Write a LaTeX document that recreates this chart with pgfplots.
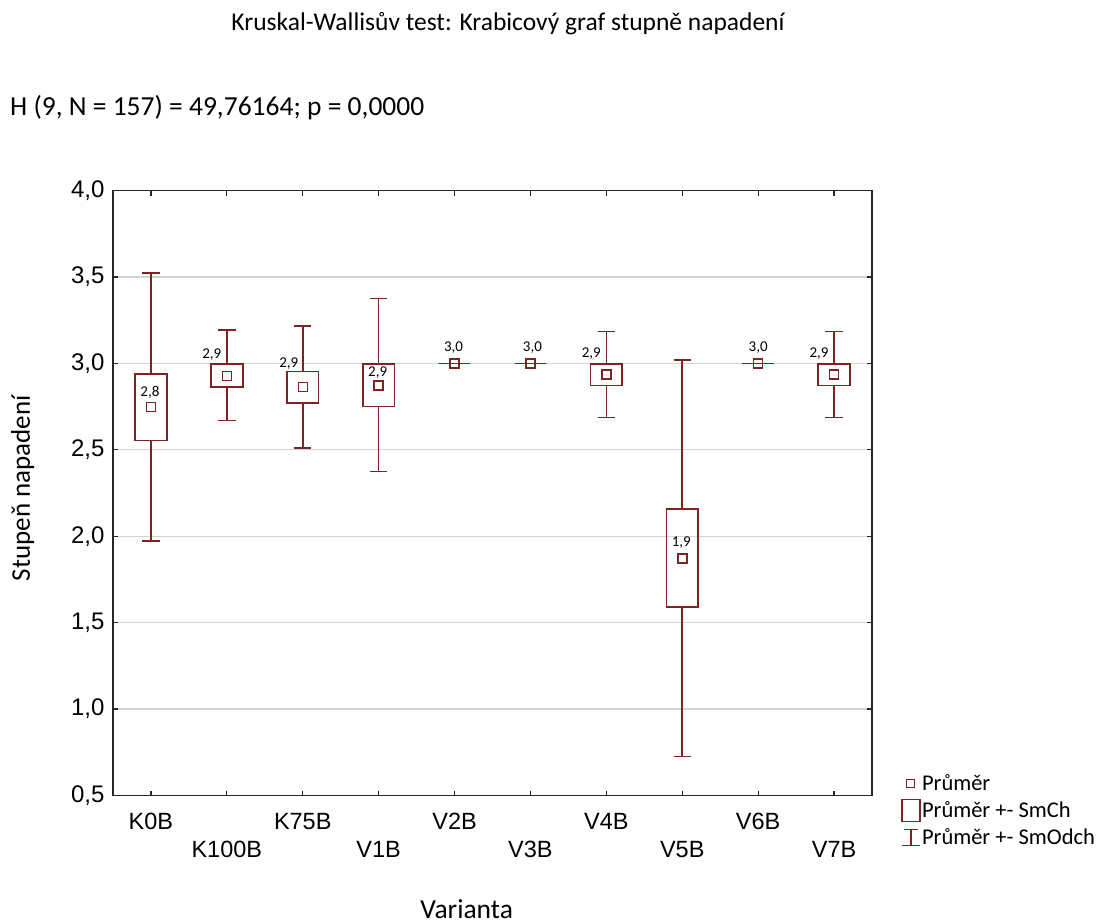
\documentclass[border=0pt]{standalone}
\usepackage{pgfplots}
\pgfplotsset{compat=1.18}
\usepgfplotslibrary{statistics}
\usepackage{pgfplotstable}
\usepackage{fontspec}
\setmainfont{Carlito}
\newfontfamily\arial{Liberation Sans}
\definecolor{mr}{RGB}{128,34,34}
\definecolor{gridc}{RGB}{212,212,212}

\pgfplotstableread{
x mean lab dx dy
0 2.747 2,8 -1 15
1 2.928 2,9 -15 21
2 2.862 2,9 -14 24
3 2.873 2,9 -1 13
4 3.000 3,0 -1 16
5 3.000 3,0 2 16
6 2.935 2,9 -15 21
7 1.870 1,9 -1 16
8 3.000 3,0 0 16
9 2.935 2,9 -15 21
}\means

\begin{document}
\begin{tikzpicture}
\path[use as bounding box] (0pt,0pt) rectangle (1108pt,-923pt);
\node[font=\fontsize{25.5}{30}\selectfont] at (508pt,-24pt) {Kruskal-Wallisův test: Krabicový graf stupně napadení};
\node[anchor=west, font=\fontsize{27.5}{32}\selectfont, inner sep=0pt] at (10pt,-108pt) {H (9, N = 157) = 49,76164; p = 0,0000};
\begin{axis}[
  at={(113pt,-795.5pt)}, anchor=south west,
  scale only axis, width=759pt, height=605pt,
  xmin=-0.5, xmax=9.5, ymin=0.5, ymax=4.0,
  xtick={0,...,9},
  xticklabels={\strut K0B,\strut\\K100B,\strut K75B,\strut\\V1B,\strut V2B,\strut\\V3B,\strut V4B,\strut\\V5B,\strut V6B,\strut\\V7B},
  ytick={0.5,1,...,4},
  yticklabel style={/pgf/number format/use comma, /pgf/number format/fixed, /pgf/number format/fixed zerofill, /pgf/number format/precision=1, /pgf/number format/assume math mode=true, xshift=-5pt, font=\arial\fontsize{24}{28}\selectfont},
  xticklabel style={yshift=-11pt, align=center, anchor=north, font=\arial\fontsize{23.5}{28}\selectfont},
  ymajorgrids, grid style={gridc, line width=1.4pt},
  axis line style={black!85, line width=1.3pt},
  tick style={black!85, line width=1.2pt},
  major tick length=5pt,
  tick align=inside,
  xlabel={Varianta},
  xlabel style={at={(axis description cs:0.466,-0.203)}, anchor=base, font=\fontsize{27.5}{30}\selectfont},
  ylabel={Stupeň napadení},
  ylabel style={at={(axis description cs:-0.119,0.508)}, anchor=center, rotate=0, font=\fontsize{27}{30}\selectfont},
  boxplot/draw direction=y,
  boxplot/box extend=0.42,
  boxplot/whisker extend=0.23,
  boxplot/every median/.style={draw=none},
  legend cell align=left,
  legend style={at={(1.034,0.04)}, anchor=north west, draw=none, fill=none,
    font=\fontsize{22.5}{27}\selectfont, row sep=5pt,
    nodes={inner sep=1.5pt}},
]
\addplot[mr, line width=1.6pt, forget plot, boxplot prepared={lower whisker=1.972, lower quartile=2.554, median=2.747, upper quartile=2.940, upper whisker=3.522, draw position=0}] coordinates {};
\addplot[mr, line width=1.6pt, forget plot, boxplot prepared={lower whisker=2.669, lower quartile=2.865, median=2.930, upper quartile=2.997, upper whisker=3.194, draw position=1}] coordinates {};
\addplot[mr, line width=1.6pt, forget plot, boxplot prepared={lower whisker=2.510, lower quartile=2.770, median=2.862, upper quartile=2.953, upper whisker=3.217, draw position=2}] coordinates {};
\addplot[mr, line width=1.6pt, forget plot, boxplot prepared={lower whisker=2.374, lower quartile=2.750, median=2.873, upper quartile=2.997, upper whisker=3.375, draw position=3}] coordinates {};
\addplot[mr, line width=1.6pt, forget plot, boxplot prepared={lower whisker=3.0, lower quartile=3.0, median=3.0, upper quartile=3.0, upper whisker=3.0, draw position=4}] coordinates {};
\addplot[mr, line width=1.6pt, forget plot, boxplot prepared={lower whisker=3.0, lower quartile=3.0, median=3.0, upper quartile=3.0, upper whisker=3.0, draw position=5}] coordinates {};
\addplot[mr, line width=1.6pt, forget plot, boxplot prepared={lower whisker=2.687, lower quartile=2.872, median=2.935, upper quartile=2.997, upper whisker=3.184, draw position=6}] coordinates {};
\addplot[mr, line width=1.6pt, forget plot, boxplot prepared={lower whisker=0.726, lower quartile=1.590, median=1.870, upper quartile=2.158, upper whisker=3.020, draw position=7}] coordinates {};
\addplot[mr, line width=1.6pt, forget plot, boxplot prepared={lower whisker=3.0, lower quartile=3.0, median=3.0, upper quartile=3.0, upper whisker=3.0, draw position=8}] coordinates {};
\addplot[mr, line width=1.6pt, forget plot, boxplot prepared={lower whisker=2.687, lower quartile=2.872, median=2.935, upper quartile=2.997, upper whisker=3.184, draw position=9}] coordinates {};
\addplot[only marks, mark=square, mark size=4.5pt, mark options={mr, line width=1.5pt, fill=white},
  forget plot,
  point meta=explicit symbolic,
  visualization depends on={\thisrow{dx} \as \lx},
  visualization depends on={\thisrow{dy} \as \ly},
  nodes near coords,
  nodes near coords style={anchor=center, xshift=\lx, yshift=\ly, font=\fontsize{15}{16}\selectfont, text=black, inner sep=0pt}
] table[x=x, y=mean, meta=lab] {\means};
\addlegendimage{legend image code/.code={\draw[mr, line width=1.4pt] (5pt,-4pt) rectangle (13pt,4pt);}}
\addlegendentry{Průměr}
\addlegendimage{legend image code/.code={\draw[mr, line width=1.5pt] (0pt,-11pt) rectangle (18pt,11pt);}}
\addlegendentry{Průměr +- SmCh}
\addlegendimage{legend image code/.code={\draw[mr, line width=1.5pt] (2pt,8pt)--(16pt,8pt) (9pt,8pt)--(9pt,-8pt) (0pt,-8pt)--(18pt,-8pt);}}
\addlegendentry{Průměr +- SmOdch}
\end{axis}
\end{tikzpicture}
\end{document}
